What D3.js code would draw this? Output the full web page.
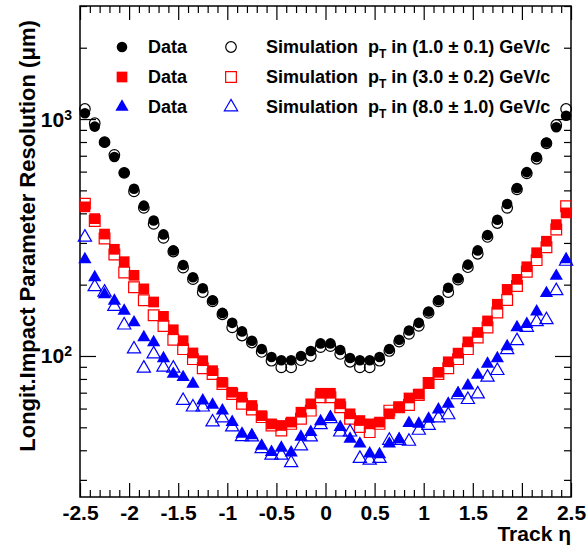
<!DOCTYPE html>
<html><head><meta charset="utf-8">
<script src="https://cdn.jsdelivr.net/npm/d3@7/dist/d3.min.js"></script>
<style>
body{margin:0;background:#fff}
svg{font-family:"Liberation Sans",Arial,Helvetica,sans-serif;font-weight:bold}
</style>
</head><body>
<svg id="c" width="587" height="550"></svg>
<script>
// ---- data ----
const eta = [-2.45,-2.35,-2.25,-2.15,-2.05,-1.95,-1.85,-1.75,-1.65,-1.55,
  -1.45,-1.35,-1.25,-1.15,-1.05,-0.95,-0.85,-0.75,-0.65,-0.55,
  -0.45,-0.35,-0.25,-0.15,-0.05,0.05,0.15,0.25,0.35,0.45,
  0.55,0.65,0.75,0.85,0.95,1.05,1.15,1.25,1.35,1.45,
  1.55,1.65,1.75,1.85,1.95,2.05,2.15,2.25,2.35,2.45];

const dataPt1 = [1058,929,799,691,593,508,431,373,326,279,
  242,215,193,172,152,138,127,116,107,99,
  96,96,100,105,113,113,106,98,96,96,
  99,107,117,128,138,154,172,194,213,243,
  279,324,376,438,512,597,691,796,924,1033];
const simPt1 = [1103,960,799,706,593,495,422,361,315,276,
  236,211,186,170,150,132,122,114,104,95.5,
  89.5,89.5,96,100,109,110,102,94.5,89.5,89.5,
  95.5,105,115,124,134,152,170,186,210,237,
  270,318,364,422,505,590,680,790,944,1103];

const dataPt3 = [426,380,327,282,250,219,192,169,147,129,
  116,103,95.5,86.7,77.4,70.3,67.0,61.8,56.0,51.7,
  50.9,52.6,57.9,62.8,69.6,69.6,62.8,57.0,53.4,51.7,
  52.6,57.0,60.8,66.5,69.1,76.9,85.3,94.5,102.8,114.7,
  125.7,140.6,165.3,191,210.6,238,272.7,305,358.5,401.7];
const simPt3 = [439.5,371,313,268,225,195,172,148.6,133.9,117,
  106.9,97,88.7,83.9,76.2,69.1,62.8,59.4,55.2,50.9,
  48.5,51.7,54.3,58.8,67.0,67.0,60.8,54.3,50.1,47.7,
  51.7,58.8,60.8,62.1,68.5,76.9,83.9,88.7,97,106.9,
  119.7,131.9,152.5,172.3,197.3,226.9,253.8,287.8,341.7,428.2];

const dataPt8 = [255.6,214.7,182.1,170.7,155.0,138.4,119.7,114.1,97.7,83.9,
  81.3,76.2,64.8,62.2,58.8,52.6,46.9,46.2,41.7,39.3,
  40.9,39.1,45.5,47.7,52.9,55.2,50.1,44.7,42.6,38.7,
  38.4,42.6,44.4,52.0,51.7,54.3,59.4,62.8,69.6,74.9,
  83.1,92.5,97.7,109.7,131.9,136.2,154.0,183.9,217.5,255.6];
const simPt8 = [317,195.7,185.7,161.7,134.9,106.9,88.7,101.9,89.5,88.7,
  64.8,60.8,60.8,52.6,54.7,50.1,45.6,45.5,40.6,38.1,
  38.1,35.4,41.7,45.5,51.2,54.3,47.7,47.7,36.9,36.3,
  36.9,44.0,44.0,43.6,48.5,50.9,54.7,56.4,68.5,65.4,
  69.1,81.3,86.7,106.2,115.9,131.9,139.3,142.0,188.4,250.7];

const xMajorTicks = [-2.5,-2,-1.5,-1,-0.5,0,0.5,1,1.5,2,2.5];
const xTickLabels = ["-2.5","-2","-1.5","-1","-0.5","0","0.5","1","1.5","2","2.5"];
const yMajorTicks = [100,1000];
const yTickExp = ["2","3"];
const yMinorTicks = [30,40,50,60,70,80,90,200,300,400,500,600,700,800,900,2000,3000];

const legendRows = [
  {shape:"circle", color:"#000", range:"(1.0 \u00b1 0.1)"},
  {shape:"square", color:"#ff0000", range:"(3.0 \u00b1 0.2)"},
  {shape:"triangle", color:"#0000ff", range:"(8.0 \u00b1 1.0)"}
];

// ---- layout ----
const svg = d3.select("#c");
const L = 80, R = 571, T = 6, B = 497;
const x = d3.scaleLinear().domain([-2.5,2.5]).range([L,R]);
const y = d3.scaleLog().domain([25.4,3000]).range([B,T]);

const xMinor = d3.range(-25,26).map(v=>v/10).filter(v=>Math.abs(v*2-Math.round(v*2))>1e-6);

function axisG(axis, tx, ty){
  const g = svg.append("g").attr("transform",`translate(${tx},${ty})`).call(axis);
  g.select(".domain").remove();
  g.selectAll("line").attr("stroke","#000").attr("stroke-width",1.2);
  return g;
}
// bottom
axisG(d3.axisBottom(x).tickValues(xMinor).tickSize(-7).tickFormat(""),0,B);
const gb = axisG(d3.axisBottom(x).tickValues(xMajorTicks).tickSize(-14).tickPadding(8)
  .tickFormat((d,i)=>xTickLabels[i]),0,B);
gb.selectAll("text").attr("font-size",21).attr("font-family","Liberation Sans, Arial, sans-serif")
  .attr("font-weight","bold").attr("fill","#000");
// top
axisG(d3.axisTop(x).tickValues(xMinor).tickSize(-7).tickFormat(""),0,T);
axisG(d3.axisTop(x).tickValues(xMajorTicks).tickSize(-14).tickFormat(""),0,T);
// left/right
axisG(d3.axisLeft(y).tickValues(yMinorTicks).tickSize(-7).tickFormat(""),L,0);
axisG(d3.axisLeft(y).tickValues(yMajorTicks).tickSize(-16).tickFormat(""),L,0);
axisG(d3.axisRight(y).tickValues(yMinorTicks).tickSize(-7).tickFormat(""),R,0);
axisG(d3.axisRight(y).tickValues(yMajorTicks).tickSize(-16).tickFormat(""),R,0);

// y tick labels 10^n
yMajorTicks.forEach((v,i)=>{
  const t = svg.append("text").attr("x",L-8).attr("y",y(v)+7.5)
    .attr("text-anchor","end").attr("font-size",21);
  t.append("tspan").text("10");
  t.append("tspan").attr("dy",-7).attr("font-size",14).text(yTickExp[i]);
});

// frame
svg.append("rect").attr("x",L).attr("y",T).attr("width",R-L).attr("height",B-T)
  .attr("fill","none").attr("stroke","#000").attr("stroke-width",1.5);

// axis titles
svg.append("text").attr("transform",`translate(35,236) rotate(-90)`)
  .attr("text-anchor","middle").attr("font-size",22)
  .text("Longit.Impact Parameter Resolution (\u03bcm)");
svg.append("text").attr("x",R).attr("y",541).attr("text-anchor","end").attr("font-size",21)
  .text("Track \u03b7");

// ---- markers ----
const sym = {
  circle: d3.symbol().type(d3.symbolCircle).size(88),
  square: d3.symbol().type(d3.symbolSquare).size(115),
  triangle: d3.symbol().type(d3.symbolTriangle).size(76)
};
const series = [
  {vals:simPt1, shape:"circle", color:"#000", open:true},
  {vals:simPt3, shape:"square", color:"#ff0000", open:true},
  {vals:simPt8, shape:"triangle", color:"#0000ff", open:true},
  {vals:dataPt1, shape:"circle", color:"#000", open:false},
  {vals:dataPt3, shape:"square", color:"#ff0000", open:false},
  {vals:dataPt8, shape:"triangle", color:"#0000ff", open:false}
];
const plot = svg.append("g");
series.forEach(s=>{
  plot.append("g").selectAll("path").data(s.vals).join("path")
    .attr("d", sym[s.shape]())
    .attr("transform",(d,i)=>`translate(${x(eta[i])},${y(d)})`)
    .attr("fill", s.open ? "none" : s.color)
    .attr("stroke", s.open ? s.color : "none")
    .attr("stroke-width", 1.2);
});

// ---- legend ----
legendRows.forEach((r,i)=>{
  const cy = 47 + i*30;
  svg.append("path").attr("d",sym[r.shape]()).attr("transform",`translate(122,${cy})`)
    .attr("fill",r.color);
  svg.append("path").attr("d",sym[r.shape]()).attr("transform",`translate(231,${cy})`)
    .attr("fill","none").attr("stroke",r.color).attr("stroke-width",1.2);
  svg.append("text").attr("x",148).attr("y",cy+6).attr("font-size",18).text("Data");
  const t = svg.append("text").attr("x",266).attr("y",cy+6).attr("font-size",18)
    .style("white-space","pre");
  t.append("tspan").text("Simulation  p");
  t.append("tspan").attr("dy",5).attr("font-size",12).text("T");
  t.append("tspan").attr("dy",-5).text(" in " + r.range + " GeV/c");
});
</script>
</body></html>
